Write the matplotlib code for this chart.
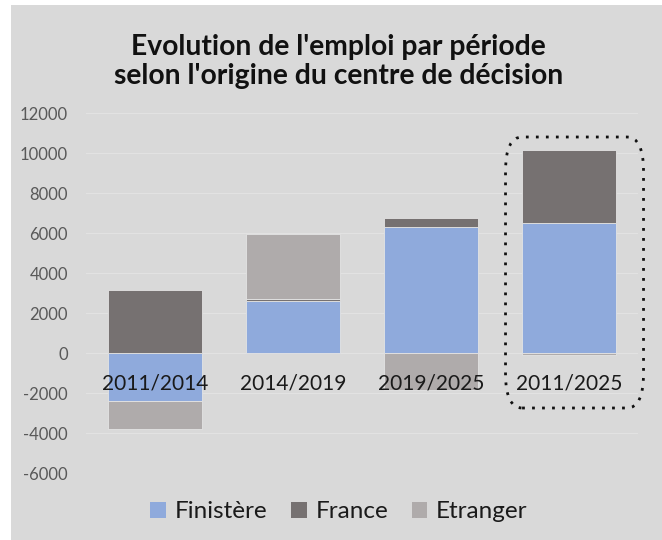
import matplotlib
matplotlib.use("Agg")
import matplotlib.pyplot as plt
from matplotlib.patches import FancyBboxPatch, Patch
import numpy as np

categories = ["2011/2014", "2014/2019", "2019/2025", "2011/2025"]
finistere = [-2400, 2620, 6280, 6500]
france = [3160, 100, 450, 3650]
etranger = [-1420, 3230, -1850, -100]
yticks = [-6000, -4000, -2000, 0, 2000, 4000, 6000, 8000, 10000, 12000]
title = "Evolution de l'emploi par période\nselon l'origine du centre de décision"
series_names = ["Finistère", "France", "Etranger"]

c_fin = "#8faadc"
c_fr = "#767171"
c_etr = "#afabab"
bg = "#d9d9d9"

plt.rcParams['font.family'] = ['Lato', 'DejaVu Sans']

fig = plt.figure(figsize=(6.62, 5.4), dpi=100)
fig.patch.set_facecolor("white")
# gray chart area
fig.patches.append(plt.Rectangle((11/662, 0), 1 - 11/662, 1 - 5/540,
                                 transform=fig.transFigure, facecolor=bg,
                                 edgecolor="none", zorder=-10))

ax = fig.add_axes([86/662, 67/540, 552/662, 360/540])
ax.set_facecolor(bg)
ax.patch.set_alpha(0)

x = np.arange(len(categories))
w = 0.68

# stacking: positives stack up, negatives stack down
pos_base = np.zeros(len(categories))
neg_base = np.zeros(len(categories))
for vals, col in [(finistere, c_fin), (france, c_fr), (etranger, c_etr)]:
    v = np.array(vals, dtype=float)
    base = np.where(v >= 0, pos_base, neg_base)
    ax.bar(x, v, w, bottom=base, color=col, edgecolor="#e4e4e4", linewidth=0.6, zorder=3)
    pos_base = pos_base + np.where(v >= 0, v, 0)
    neg_base = neg_base + np.where(v < 0, v, 0)

ax.set_xlim(-0.5, len(categories) - 0.5)
ax.set_ylim(yticks[0], yticks[-1])
ax.set_yticks(yticks)
ax.set_yticklabels([str(t) for t in yticks], color="#595959", fontsize=12)
ax.tick_params(axis="y", length=0, pad=13)
ax.yaxis.grid(True, color="#e2e2e2", linewidth=0.8)
ax.set_axisbelow(True)

ax.spines['bottom'].set_position(('data', 0))
for s in ax.spines.values():
    s.set_visible(False)
ax.set_xticks(x)
ax.set_xticklabels(categories, fontsize=15, color="#1a1a1a")
ax.tick_params(axis="x", length=0, pad=15)
ax.xaxis.set_zorder(5)

# dotted rounded box around last category
box = FancyBboxPatch((x[-1] - 0.46, -2750), 1.0, 13550,
                     boxstyle="round,pad=0,rounding_size=0.12",
                     mutation_aspect=2000 / 0.14,
                     facecolor="none", edgecolor="#111111",
                     linestyle=(0, (1, 2.6)), linewidth=2.0,
                     clip_on=False, zorder=6)
ax.add_patch(box)

fig.text(0.511, 0.886, title, ha="center", va="center", fontsize=20.3,
         fontweight="bold", color="#111111", linespacing=1.15)

handles = [Patch(facecolor=c, edgecolor="none") for c in (c_fin, c_fr, c_etr)]
fig.legend(handles, series_names, loc="center", bbox_to_anchor=(0.512, 0.052),
           ncol=3, frameon=False, fontsize=17.5, handlelength=0.65, handleheight=0.65,
           handletextpad=0.35, columnspacing=0.97, labelcolor="#1a1a1a")

fig.savefig("out.png", dpi=100, facecolor=fig.get_facecolor())
